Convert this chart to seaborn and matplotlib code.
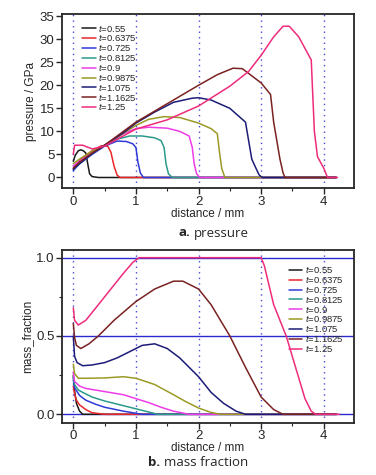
import numpy as np
import pandas as pd
import seaborn as sns
import matplotlib.pyplot as plt
from matplotlib.ticker import MultipleLocator

# ---- data ----
times = ["0.55", "0.6375", "0.725", "0.8125", "0.9", "0.9875", "1.075", "1.1625", "1.25"]
colors = ["#1a1a1a", "#e8262a", "#2f3ad8", "#2a9a8a", "#ee3ce6",
          "#9c9a26", "#1c1c78", "#7a2222", "#ee2c7c"]

# pressure (GPa) vs distance (mm)
p055_x = [0, 0.03, 0.08, 0.12, 0.16, 0.2, 0.23, 0.26, 0.3, 0.4, 4.2]
p055_y = [3.5, 4.8, 5.8, 6.0, 5.8, 5.3, 3.0, 0.8, 0.2, 0, 0]
p06375_x = [0, 0.05, 0.15, 0.3, 0.45, 0.55, 0.6, 0.65, 0.7, 0.75, 4.2]
p06375_y = [2.0, 3.0, 4.3, 5.8, 6.9, 6.8, 5.5, 2.5, 0.5, 0, 0]
p0725_x = [0, 0.1, 0.3, 0.5, 0.7, 0.85, 0.95, 1.0, 1.03, 1.07, 1.12, 4.2]
p0725_y = [1.5, 3, 5, 6.8, 7.9, 7.8, 7.3, 6.5, 3.5, 1, 0, 0]
p08125_x = [0, 0.1, 0.3, 0.5, 0.7, 0.9, 1.1, 1.3, 1.4, 1.45, 1.48, 1.52, 1.58, 4.2]
p08125_y = [1.8, 3, 5.2, 7, 8.3, 9, 9, 8.6, 8, 6.5, 3, 0.8, 0, 0]
p09_x = [0, 0.1, 0.3, 0.5, 0.8, 1.0, 1.2, 1.5, 1.7, 1.85, 1.9, 1.93, 1.97, 2.02, 4.2]
p09_y = [2.5, 3.5, 5.5, 7, 9.5, 10.6, 10.9, 10.7, 10, 9, 6.5, 3, 0.8, 0, 0]
p09875_x = [0, 0.1, 0.3, 0.5, 0.8, 1.0, 1.2, 1.45, 1.7, 2.0, 2.2, 2.3, 2.33, 2.37, 2.42, 4.2]
p09875_y = [3, 4, 5.7, 7, 9.6, 11.3, 12.6, 13.2, 13, 11.8, 10.6, 9.5, 6, 2, 0, 0]
p1075_x = [0, 0.1, 0.3, 0.5, 0.8, 1.0, 1.3, 1.6, 1.9, 2.0, 2.2, 2.5, 2.75, 2.8, 2.85, 2.9, 2.97, 3.02, 4.2]
p1075_y = [1.8, 3, 5.2, 7, 9.7, 11.8, 14.2, 16.3, 17.2, 17.3, 16.8, 15, 12, 8, 4, 2.5, 0.5, 0, 0]
p11625_x = [0, 0.1, 0.3, 0.5, 1.0, 1.5, 2.0, 2.3, 2.55, 2.7, 3.0, 3.15, 3.2, 3.3, 3.35, 3.38, 4.2]
p11625_y = [2, 3.3, 5.3, 7, 12, 16, 20, 22.3, 23.7, 23.6, 20.5, 18, 12, 4, 1, 0, 0]
p125_x = [0, 0.02, 0.15, 0.3, 0.5, 0.7, 1.0, 1.5, 2.0, 2.5, 2.8, 3.0, 3.2, 3.35, 3.45,
          3.6, 3.7, 3.8, 3.85, 3.9, 4.0, 4.06, 4.22]
p125_y = [5, 7, 7, 6.2, 6.8, 8.3, 10.5, 12.5, 15.5, 19.8, 23, 26.5, 30.5, 32.8, 32.8,
          30.5, 28, 25.5, 10, 4.5, 2, 0, 0]

# mass fraction vs distance (mm)
m055_x = [0, 0.02, 0.05, 0.1, 0.15, 4.2]
m055_y = [0.25, 0.15, 0.07, 0.02, 0, 0]
m06375_x = [0, 0.02, 0.05, 0.1, 0.2, 0.3, 0.5, 4.2]
m06375_y = [0.18, 0.13, 0.09, 0.06, 0.03, 0.01, 0, 0]
m0725_x = [0, 0.02, 0.1, 0.2, 0.35, 0.5, 0.8, 1.1, 4.2]
m0725_y = [0.22, 0.17, 0.12, 0.09, 0.065, 0.045, 0.02, 0, 0]
m08125_x = [0, 0.02, 0.08, 0.15, 0.3, 0.5, 0.7, 0.9, 1.1, 1.35, 4.2]
m08125_y = [0.24, 0.19, 0.155, 0.14, 0.11, 0.085, 0.065, 0.045, 0.025, 0, 0]
m09_x = [0, 0.02, 0.1, 0.2, 0.5, 0.8, 1.0, 1.2, 1.4, 1.6, 1.85, 4.2]
m09_y = [0.27, 0.21, 0.18, 0.165, 0.145, 0.125, 0.1, 0.075, 0.045, 0.02, 0, 0]
m09875_x = [0, 0.02, 0.08, 0.2, 0.5, 0.8, 1.0, 1.3, 1.6, 1.8, 2.0, 2.2, 2.35, 4.2]
m09875_y = [0.32, 0.26, 0.23, 0.23, 0.232, 0.24, 0.23, 0.19, 0.125, 0.08, 0.04, 0.012, 0, 0]
m1075_x = [0, 0.02, 0.06, 0.15, 0.3, 0.5, 0.7, 0.9, 1.1, 1.3, 1.5, 1.7, 2.0, 2.2, 2.4, 2.6, 2.75, 4.2]
m1075_y = [0.5, 0.37, 0.33, 0.31, 0.315, 0.33, 0.36, 0.4, 0.44, 0.45, 0.42, 0.36, 0.24, 0.14, 0.07, 0.02, 0, 0]
m11625_x = [0, 0.02, 0.05, 0.12, 0.25, 0.4, 0.65, 1.0, 1.3, 1.6, 1.75, 2.0, 2.2, 2.5, 2.75, 3.0, 3.2, 3.35, 4.2]
m11625_y = [0.58, 0.49, 0.44, 0.42, 0.45, 0.5, 0.6, 0.72, 0.8, 0.85, 0.85, 0.8, 0.7, 0.5, 0.3, 0.11, 0.03, 0, 0]
m125_x = [0, 0.02, 0.08, 0.2, 0.4, 0.6, 0.8, 0.95, 1.05, 3.0, 3.05, 3.2, 3.4, 3.55, 3.7, 3.8, 3.87, 4.25]
m125_y = [0.68, 0.6, 0.57, 0.6, 0.7, 0.8, 0.9, 0.97, 1.0, 1.0, 0.95, 0.7, 0.5, 0.3, 0.1, 0.02, 0, 0]

press_x = [p055_x, p06375_x, p0725_x, p08125_x, p09_x, p09875_x, p1075_x, p11625_x, p125_x]
press_y = [p055_y, p06375_y, p0725_y, p08125_y, p09_y, p09875_y, p1075_y, p11625_y, p125_y]
mass_x = [m055_x, m06375_x, m0725_x, m08125_x, m09_x, m09875_x, m1075_x, m11625_x, m125_x]
mass_y = [m055_y, m06375_y, m0725_y, m08125_y, m09_y, m09875_y, m1075_y, m11625_y, m125_y]


def to_frame(xs, ys):
    rows = []
    for t, x, y in zip(times, xs, ys):
        for xi, yi in zip(x, y):
            rows.append(("$t$=" + t, xi, yi))
    return pd.DataFrame(rows, columns=["series", "distance", "value"])


sns.set_style("ticks")
plt.rcParams["font.family"] = ["Liberation Sans Narrow", "Liberation Sans", "DejaVu Sans"]
plt.rcParams["mathtext.fontset"] = "custom"
plt.rcParams["mathtext.it"] = "Liberation Sans:italic"

fig = plt.figure(figsize=(3.76, 4.75), dpi=100)
ax1 = fig.add_axes([0.165, 0.604, 0.776, 0.366])
ax2 = fig.add_axes([0.165, 0.110, 0.776, 0.364])

grid_blue = "#4a4ad8"
palette = dict(zip(["$t$=" + t for t in times], colors))
leg_kw = dict(frameon=False, fontsize=6.8, handlelength=1.4, handletextpad=0.3,
              labelspacing=-0.12, borderaxespad=0.2)

for ax, xs, ys in [(ax1, press_x, press_y), (ax2, mass_x, mass_y)]:
    for v in range(5):
        ax.axvline(v, color=grid_blue, ls=(0, (1, 3)), lw=1.0, zorder=0)
    df = to_frame(xs, ys)
    sns.lineplot(data=df, x="distance", y="value", hue="series", palette=palette,
                 sort=False, estimator=None, lw=1.1, ax=ax)
    for s in ax.spines.values():
        s.set_linewidth(1.3)
    ax.set_xlim(-0.18, 4.48)
    ax.xaxis.set_major_locator(MultipleLocator(1))
    ax.xaxis.set_minor_locator(MultipleLocator(0.5))
    ax.tick_params(which="major", direction="out", length=4, width=1, labelsize=9.5, pad=1.5)
    ax.tick_params(which="minor", direction="out", length=2, width=0.8)
    ax.set_xlabel("distance / mm", fontsize=8.5, labelpad=0)

for yv in [0, 0.5, 1.0]:
    ax2.axhline(yv, color="#2a2ad0", lw=1.0, zorder=0.5)

ax1.set_ylim(-2.3, 35.4)
ax1.yaxis.set_major_locator(MultipleLocator(5))
ax1.set_ylabel("pressure / GPa", fontsize=8.5, labelpad=2)
ax1.legend(loc="upper left", bbox_to_anchor=(0.05, 0.985), **leg_kw)

ax2.set_ylim(-0.054, 1.05)
ax2.yaxis.set_major_locator(MultipleLocator(0.5))
ax2.yaxis.set_minor_locator(MultipleLocator(0.25))
ax2.yaxis.set_major_formatter(lambda v, p: f"{v:.1f}")
ax2.set_ylabel("mass_fraction", fontsize=8.5, labelpad=2)
ax2.legend(loc="upper right", bbox_to_anchor=(0.985, 0.95), **leg_kw)

cap_font = ["Open Sans", "DejaVu Sans"]
fig.text(0.505, 1 - 233 / 475, "a.", ha="right", va="center", fontsize=9.5,
         fontweight="bold", family=cap_font)
fig.text(0.515, 1 - 233 / 475, "pressure", ha="left", va="center", fontsize=9.5, family=cap_font)
fig.text(0.425, 1 - 463 / 475, "b.", ha="right", va="center", fontsize=9.5,
         fontweight="bold", family=cap_font)
fig.text(0.435, 1 - 463 / 475, "mass fraction", ha="left", va="center", fontsize=9.5, family=cap_font)

fig.savefig("out.png", dpi=100)
